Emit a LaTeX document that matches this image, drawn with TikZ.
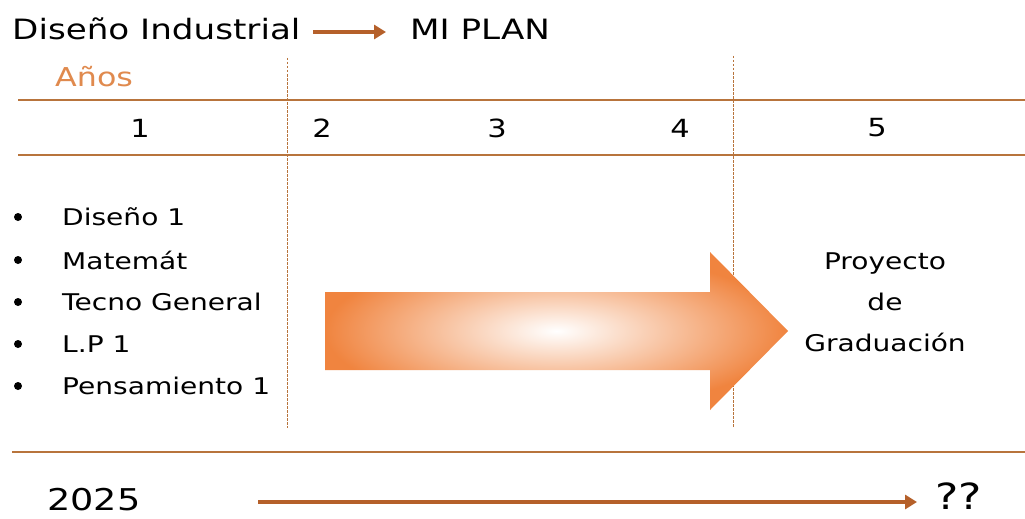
\documentclass[tikz,border=0pt]{standalone}
\usepackage{fontspec}
\setmainfont{DejaVu Sans}[FakeStretch=1.22]
\usetikzlibrary{arrows.meta}
\definecolor{brownln}{HTML}{B8743C}
\definecolor{arrbrown}{HTML}{B5602A}
\definecolor{orangetxt}{HTML}{E08A4E}
\definecolor{arrorange}{HTML}{F0843F}
\tikzset{
  hline/.style={draw=brownln, line width=1.4pt},
  vdash/.style={draw=brownln, line width=1pt, dash pattern=on 2.5pt off 1.5pt},
  txt/.style={font=\fontsize{23}{27}\selectfont, text=black, inner sep=0pt},
  num/.style={font=\fontsize{25}{29}\selectfont, text=black, inner sep=0pt},
  title/.style={font=\fontsize{28}{32}\selectfont, text=black, inner sep=0pt},
  bullet/.style={fill=black, circle, inner sep=0pt, minimum size=8pt},
  brownarrow/.style={draw=arrbrown, line width=4.5pt, -{Triangle[length=12pt,width=14pt]}},
}
\begin{document}
\begin{tikzpicture}[x=1pt,y=-1pt]
\useasboundingbox (0,0) rectangle (1025,519);
\fill[white] (0,0) rectangle (1025,519);

% title
\node[title, anchor=base west] (t1) at (12,40) {Diseño Industrial};
\node[title, anchor=base west] (t2) at (410,40) {MI PLAN};
\coordinate (ta) at (313,32);
\coordinate (tb) at (386,32);
\draw[brownarrow, line width=4pt] (ta) -- (tb);

% Años
\node[font=\fontsize{26}{30}\selectfont, text=orangetxt, inner sep=0pt, anchor=base west] (anos) at (55,86) {Años};

% lines
\coordinate (l1a) at (18,100); \coordinate (l1b) at (1025,100);
\coordinate (l2a) at (18,155); \coordinate (l2b) at (1025,155);
\coordinate (l3a) at (12,452); \coordinate (l3b) at (1025,452);
\draw[hline] (l1a) -- (l1b);
\draw[hline] (l2a) -- (l2b);
\draw[hline] (l3a) -- (l3b);

\coordinate (v1a) at (287,58); \coordinate (v1b) at (287,428);
\coordinate (v2a) at (733,56); \coordinate (v2b) at (733,428);
\draw[vdash] (v1a) -- (v1b);
\draw[vdash] (v2a) -- (v2b);

% year numbers
\node[num] (y1) at (140,128) {1};
\node[num] (y2) at (322,128) {2};
\node[num] (y3) at (497,128) {3};
\node[num] (y4) at (680,128) {4};
\node[num] (y5) at (877,128) {5};

% subjects
\foreach \i/\yy/\t in {1/217/Diseño 1, 2/260/Matemát, 3/302/Tecno General, 4/344/L.P 1, 5/386/Pensamiento 1}{
  \node[bullet] (b\i) at (18,\yy) {};
  \node[txt, anchor=west] (s\i) at (62,\yy) {\t};
}

% big block arrow
\shade[inner color=white, outer color=arrorange, draw=none]
  (325,292) -- (710,292) -- (710,252) -- (788,331) -- (710,410) -- (710,370) -- (325,370) -- cycle;

% Proyecto de Graduación
\node[txt, align=center, font=\fontsize{23}{41}\selectfont] (pg) at (885,302) {Proyecto\\de\\Graduación};

% bottom
\node[font=\fontsize{30}{34}\selectfont, inner sep=0pt, anchor=base west] (yr) at (47,510) {2025};
\node[font=\fontsize{36}{40}\selectfont, inner sep=0pt, anchor=base west] (qq) at (935,509) {??};
\coordinate (ba) at (258,502);
\coordinate (bb) at (917,502);
\draw[brownarrow] (ba) -- (bb);
\end{tikzpicture}
\end{document}
